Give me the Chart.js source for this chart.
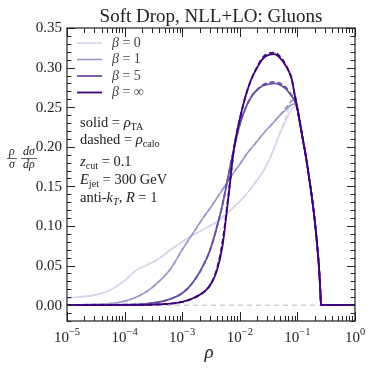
<!DOCTYPE html>
<html>
<head>
<meta charset="utf-8">
<script src="https://cdn.jsdelivr.net/npm/chart.js@4.4.1/dist/chart.umd.min.js"></script>
<style>
  html, body { margin: 0; padding: 0; background: #fff; }
  #wrap { width: 374px; height: 374px; }
</style>
</head>
<body>
<div id="wrap"><canvas id="sd"></canvas></div>
<script>
// rho grid (x values)
var rho = [1e-5, 3.16e-5, 5.62e-5, 1e-4, 1.58e-4, 2.51e-4, 3.98e-4, 6.31e-4, 1e-3, 1.58e-3,
  2.51e-3, 3.16e-3, 3.98e-3, 5.01e-3, 6.31e-3, 7.94e-3, 0.01, 0.0126, 0.0158, 0.02,
  0.0251, 0.0316, 0.0398, 0.0501, 0.0631, 0.0794, 0.0891, 0.1, 0.112, 0.126,
  0.141, 0.158, 0.178, 0.2, 0.224, 0.24, 0.251, 0.257, 0.316, 1];

// solid = rho_TA
var beta0 = [0.009, 0.013, 0.019, 0.031, 0.044, 0.051, 0.059, 0.070, 0.080, 0.089,
  0.097, 0.101, 0.105, 0.111, 0.117, 0.124, 0.131, 0.139, 0.148, 0.158,
  0.168, 0.182, 0.199, 0.217, 0.233, 0.248, 0.251, 0.246, 0.228, 0.207,
  0.187, 0.163, 0.137, 0.107, 0.070, 0.042, 0.015, 0, 0, 0];
var beta1 = [0.0003, 0.001, 0.002, 0.005, 0.010, 0.018, 0.030, 0.046, 0.070, 0.092,
  0.114, 0.124, 0.135, 0.146, 0.157, 0.168, 0.178, 0.189, 0.198, 0.207,
  0.216, 0.224, 0.232, 0.240, 0.247, 0.253, 0.254, 0.247, 0.228, 0.207,
  0.187, 0.163, 0.137, 0.107, 0.070, 0.042, 0.015, 0, 0, 0];
var beta5 = [0, 0, 0.0002, 0.0005, 0.001, 0.002, 0.004, 0.008, 0.015, 0.030,
  0.055, 0.073, 0.098, 0.127, 0.163, 0.198, 0.228, 0.249, 0.263, 0.272,
  0.277, 0.279, 0.280, 0.278, 0.273, 0.264, 0.259, 0.248, 0.228, 0.207,
  0.187, 0.163, 0.137, 0.107, 0.070, 0.042, 0.015, 0, 0, 0];
var betaInf = [0, 0, 0, 0, 0, 0.0003, 0.001, 0.002, 0.004, 0.009,
  0.018, 0.027, 0.043, 0.075, 0.135, 0.198, 0.235, 0.264, 0.285, 0.300,
  0.311, 0.316, 0.317, 0.312, 0.302, 0.286, 0.267, 0.248, 0.228, 0.207,
  0.187, 0.163, 0.137, 0.107, 0.070, 0.042, 0.015, 0, 0, 0];

// dashed = rho_calo
var beta0Calo = [0.009, 0.013, 0.019, 0.031, 0.044, 0.051, 0.059, 0.070, 0.080, 0.089,
  0.097, 0.101, 0.105, 0.111, 0.117, 0.124, 0.131, 0.139, 0.148, 0.158,
  0.168, 0.182, 0.199, 0.218, 0.238, 0.262, 0.268, 0.252, 0.228, 0.207,
  0.187, 0.163, 0.137, 0.107, 0.070, 0.042, 0.015, 0, 0, 0];
var beta1Calo = [0.0003, 0.001, 0.002, 0.005, 0.010, 0.018, 0.030, 0.046, 0.070, 0.092,
  0.114, 0.124, 0.135, 0.146, 0.157, 0.168, 0.178, 0.189, 0.198, 0.207,
  0.216, 0.224, 0.232, 0.240, 0.249, 0.258, 0.260, 0.250, 0.228, 0.207,
  0.187, 0.163, 0.137, 0.107, 0.070, 0.042, 0.015, 0, 0, 0];
var beta5Calo = [0, 0, 0.0002, 0.0005, 0.001, 0.002, 0.004, 0.008, 0.015, 0.030,
  0.055, 0.073, 0.098, 0.127, 0.163, 0.198, 0.228, 0.249, 0.263, 0.272,
  0.278, 0.281, 0.282, 0.280, 0.275, 0.265, 0.259, 0.248, 0.228, 0.207,
  0.187, 0.163, 0.137, 0.107, 0.070, 0.042, 0.015, 0, 0, 0];
var betaInfCalo = [0, 0, 0, 0, 0, 0.0003, 0.001, 0.002, 0.004, 0.009,
  0.018, 0.027, 0.045, 0.080, 0.137, 0.198, 0.235, 0.264, 0.285, 0.301,
  0.313, 0.318, 0.319, 0.314, 0.303, 0.286, 0.267, 0.248, 0.228, 0.207,
  0.187, 0.163, 0.137, 0.107, 0.070, 0.042, 0.015, 0, 0, 0];

var betaLabels = ['0', '1', '5', '\u221e'];
var colors = ['#d6d5ea', '#9d99c9', '#6a51a3', '#3f007d'];

var yTicks = [0, 0.05, 0.10, 0.15, 0.20, 0.25, 0.30, 0.35];
var xExponents = [-5, -4, -3, -2, -1, 0];

var SERIF = '"Liberation Serif", "DejaVu Serif", serif';
var INK = '#222';

function pts(vals) {
    return rho.map((r, i) => ({ x: r, y: vals[i] }));
}

function line(vals, k, dashed, order) {
    return {
        label: betaLabels[k],
        data: pts(vals),
        borderColor: colors[k],
        borderWidth: k >= 2 ? 1.8 : 1.6,
        borderDash: dashed ? [5, 3] : [],
        pointRadius: 0,
        cubicInterpolationMode: 'monotone',
        fill: false,
        order: order
    };
}

// text with sub/italic pieces, left aligned
function rich(ctx, x, y, segs, size) {
    var cx = x;
    segs.forEach(function (s) {
        var t = s[0], st = s[1];
        var fs = size, dy = 0;
        if (st[0] === 's') { fs = size * 0.7; dy = size * 0.22; }
        ctx.font = (st.indexOf('i') >= 0 ? 'italic ' : '') + fs + 'px ' + SERIF;
        ctx.fillText(t, cx, y + dy);
        cx += ctx.measureText(t).width;
    });
}

var deco = {
    id: 'deco',
    afterDraw(chart) {
        var ctx = chart.ctx, a = chart.chartArea;
        var x = chart.scales.x, y = chart.scales.y;
        ctx.save();
        ctx.strokeStyle = INK;
        ctx.fillStyle = INK;

        // frame
        ctx.lineWidth = 1.2;
        ctx.strokeRect(a.left, a.top, a.right - a.left, a.bottom - a.top);

        // y ticks, inward on both sides
        ctx.lineWidth = 1;
        ctx.beginPath();
        for (var i = -2; i <= 35; i++) {
            var py = Math.round(y.getPixelForValue(i / 100)) + 0.5;
            var len = (i % 5 === 0) ? 8 : 4.5;
            ctx.moveTo(a.left, py); ctx.lineTo(a.left + len, py);
            ctx.moveTo(a.right, py); ctx.lineTo(a.right - len, py);
        }
        // x ticks (log)
        for (var d = -5; d <= 0; d++) {
            var ks = d < 0 ? [1, 2, 3, 4, 5, 6, 7, 8, 9] : [1];
            ks.forEach(function (k) {
                var px = Math.round(x.getPixelForValue(k * Math.pow(10, d))) + 0.5;
                var l = k === 1 ? 9 : 5;
                ctx.moveTo(px, a.bottom); ctx.lineTo(px, a.bottom - l);
                ctx.moveTo(px, a.top); ctx.lineTo(px, a.top + l);
            });
        }
        ctx.stroke();

        // y tick labels
        ctx.font = '15px ' + SERIF;
        ctx.textAlign = 'right';
        ctx.textBaseline = 'middle';
        yTicks.forEach(function (v) {
            ctx.fillText(v.toFixed(2), a.left - 5, y.getPixelForValue(v) + 0.5);
        });

        // x tick labels 10^n
        ctx.textAlign = 'left';
        ctx.textBaseline = 'alphabetic';
        xExponents.forEach(function (e) {
            var px = x.getPixelForValue(Math.pow(10, e));
            var ex = e < 0 ? '\u2212' + (-e) : String(e);
            ctx.font = '15px ' + SERIF;
            var w1 = ctx.measureText('10').width;
            ctx.font = '10.5px ' + SERIF;
            var w2 = ctx.measureText(ex).width;
            var sx = px - (w1 + w2) / 2;
            ctx.font = '15px ' + SERIF;
            ctx.fillText('10', sx, 342);
            ctx.font = '10.5px ' + SERIF;
            ctx.fillText(ex, sx + w1, 335);
        });

        // axis labels
        ctx.textAlign = 'center';
        ctx.font = 'italic 19px ' + SERIF;
        ctx.fillText('\u03c1', 209, 358);

        ctx.font = 'italic 12px ' + SERIF;
        ctx.fillText('\u03c1', 12, 155);
        ctx.fillText('\u03c3', 12, 168);
        ctx.fillText('d\u03c3', 29, 155);
        ctx.fillText('d\u03c1', 29, 168);
        ctx.lineWidth = 0.7;
        ctx.beginPath();
        ctx.moveTo(7, 158.5); ctx.lineTo(17, 158.5);
        ctx.moveTo(21, 158.5); ctx.lineTo(37, 158.5);
        ctx.stroke();

        // title
        ctx.font = '19px ' + SERIF;
        ctx.fillText('Soft Drop, NLL+LO: Gluons', 211, 22);

        // legend
        ctx.textAlign = 'left';
        ctx.textBaseline = 'middle';
        var ly = [43, 59.5, 76, 92.5];
        betaLabels.forEach(function (lab, k) {
            ctx.strokeStyle = colors[k];
            ctx.lineWidth = k >= 2 ? 1.8 : 1.6;
            ctx.beginPath();
            ctx.moveTo(77, ly[k]); ctx.lineTo(102, ly[k]);
            ctx.stroke();
            ctx.fillStyle = '#444';
            rich(ctx, 112, ly[k], [['\u03b2', 'i'], [' = ' + lab, 'r']], 14);
        });

        // annotations
        ctx.fillStyle = INK;
        ctx.textBaseline = 'alphabetic';
        rich(ctx, 80, 127, [['solid = ', 'r'], ['\u03c1', 'i'], ['TA', 'sr']], 14.5);
        rich(ctx, 80, 144, [['dashed = ', 'r'], ['\u03c1', 'i'], ['calo', 'sr']], 14.5);
        rich(ctx, 80, 166, [['z', 'i'], ['cut', 'sr'], [' = 0.1', 'r']], 14.5);
        rich(ctx, 80, 184, [['E', 'i'], ['jet', 'sr'], [' = 300 GeV', 'r']], 14.5);
        rich(ctx, 80, 202, [['anti-', 'r'], ['k', 'i'], ['T', 'si'], [', ', 'r'], ['R', 'i'], [' = 1', 'r']], 14.5);

        ctx.restore();
    }
};

var zeroLine = {
    label: 'zero',
    data: [{ x: 1e-5, y: 0 }, { x: 1, y: 0 }],
    borderColor: '#cfcfcf',
    borderWidth: 1.5,
    borderDash: [5, 4],
    pointRadius: 0,
    order: 20
};

var ctx = document.getElementById('sd').getContext('2d');
var chart = new Chart(ctx, {
    type: 'line',
    data: {
        datasets: [
            zeroLine,
            line(beta0, 0, false, 8),
            line(beta0Calo, 0, true, 7),
            line(beta1, 1, false, 6),
            line(beta1Calo, 1, true, 5),
            line(beta5, 2, false, 4),
            line(beta5Calo, 2, true, 3),
            line(betaInf, 3, false, 2),
            line(betaInfCalo, 3, true, 1)
        ]
    },
    options: {
        responsive: true,
        maintainAspectRatio: false,
        animation: false,
        layout: { padding: { left: 67, right: 19, top: 28, bottom: 53 } },
        scales: {
            x: { type: 'logarithmic', min: 1e-5, max: 1, display: false },
            y: { type: 'linear', min: -0.02, max: 0.35, display: false }
        },
        plugins: {
            legend: { display: false },
            tooltip: { enabled: false },
            title: { display: false }
        }
    },
    plugins: [deco]
});
</script>
</body>
</html>
